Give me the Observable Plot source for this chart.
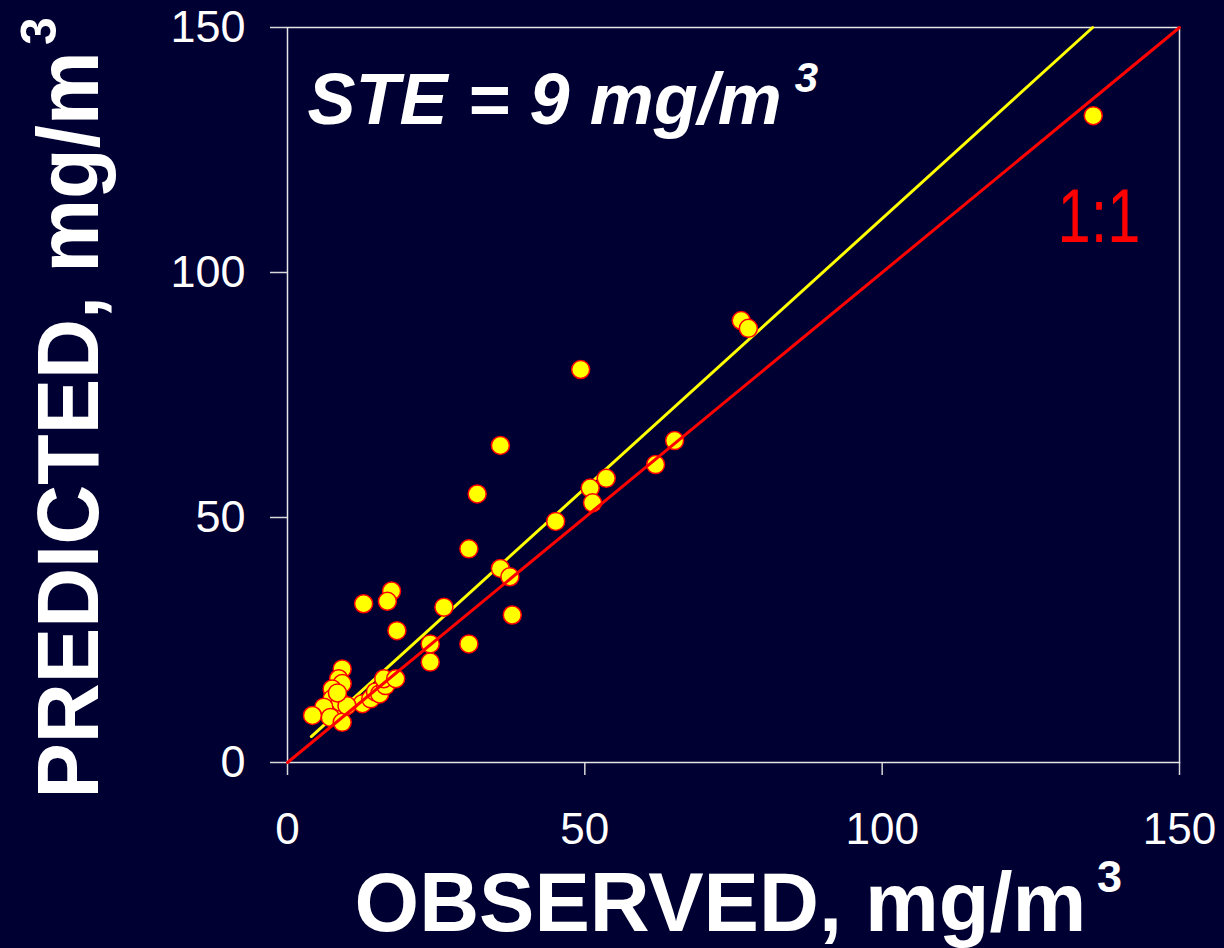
<!DOCTYPE html>
<html><head><meta charset="utf-8">
<script src="https://cdn.jsdelivr.net/npm/d3@7"></script>
<script src="https://cdn.jsdelivr.net/npm/@observablehq/plot@0.6"></script>
<style>
html,body{margin:0;padding:0;background:#000033;}
</style></head><body><div id="chart"></div>
<script>
// Observed vs predicted concentrations (mg/m3)
const observed = [135.5, 76.3, 77.5, 49.3, 35.8, 65.1, 61.9, 53.6, 50.9, 51.3, 31.9, 45.1, 30.5, 35.8, 37.4, 37.8, 26.3, 12.8, 17.5, 16.8, 18.4, 24.0, 24.0, 30.5, 9.2, 8.6, 9.2, 7.5, 7.5, 8.9, 6.1, 4.2, 7.2, 9.2, 12.6, 14.0, 14.8, 15.5, 16.5, 16.2, 18.2, 10.0, 8.4];
const predicted = [132.0, 90.2, 88.6, 80.2, 64.7, 65.7, 60.8, 58.0, 56.0, 53.0, 54.8, 49.2, 43.6, 39.6, 37.9, 30.1, 31.7, 32.4, 35.0, 32.9, 26.9, 24.2, 20.5, 24.2, 19.1, 17.1, 16.1, 15.0, 13.0, 12.3, 11.3, 9.6, 9.2, 8.2, 12.0, 13.0, 14.4, 14.0, 15.7, 17.1, 17.1, 11.6, 14.2];
// Fitted (yellow) line end points
const fitObserved = [4.0, 135.4];
const fitPredicted = [5.3, 150];
// 1:1 line end points
const identityLine = [0, 150];
const xTicks = [0, 50, 100, 150];
const yTicks = [0, 50, 100, 150];
const steLabel = "STE = 9 mg/m";
const xLabel = "OBSERVED, mg/m";
const yLabel = "PREDICTED, mg/m";
const sup = "3";
const oneLabel = "1:1";

const points = observed.map((x, i) => ({x, y: predicted[i]}));
const fit = fitObserved.map((x, i) => ({x, y: fitPredicted[i]}));
const oneToOne = identityLine.map(v => ({x: v, y: v}));

const font = "'Liberation Sans', Arial, Helvetica, sans-serif";
const chart = Plot.plot({
  width: 1224, height: 948,
  marginLeft: 287, marginRight: 45, marginTop: 27, marginBottom: 186,
  style: {background: "#000033", color: "white", fontFamily: font, overflow: "visible"},
  x: {domain: [0, 150]},
  y: {domain: [0, 150]},
  marks: [
    Plot.axisX({ticks: xTicks, tickSize: 13, tickPadding: 37, fontSize: 44, label: null, stroke: "#d8d8d8", strokeWidth: 1.5}),
    Plot.axisY({ticks: yTicks, tickSize: 17, tickPadding: 25, fontSize: 45, label: null, stroke: "#d8d8d8", strokeWidth: 1.5}),
    Plot.frame({stroke: "#e6e6e6", strokeWidth: 1.5}),
    Plot.line(fit, {x: "x", y: "y", stroke: "#ffff00", strokeWidth: 3}),
    Plot.dot(points, {x: "x", y: "y", r: 9, fill: "#ffff00", stroke: "#ff0000", strokeWidth: 1.5}),
    Plot.line(oneToOne, {x: "x", y: "y", stroke: "#ff0000", strokeWidth: 3}),
    Plot.text([steLabel], {text: d => d, frameAnchor: "top-left", textAnchor: "start", lineAnchor: "bottom", dx: 20, dy: 96, fontSize: 72, fontWeight: "bold", fontStyle: "italic", fill: "white"}),
    Plot.text([sup], {text: d => d, frameAnchor: "top-left", textAnchor: "middle", lineAnchor: "bottom", dx: 519, dy: 64, fontSize: 42, fontWeight: "bold", fontStyle: "italic", fill: "white"}),
    Plot.text([oneLabel], {text: d => d, frameAnchor: "top-right", textAnchor: "end", lineAnchor: "bottom", dx: -39, dy: 214, fontSize: 76, fill: "#ff0000"}),
    Plot.text([xLabel], {text: d => d, frameAnchor: "bottom", textAnchor: "middle", lineAnchor: "bottom", dx: -13, dy: 168, fontSize: 83, fontWeight: "bold", fill: "white"}),
    Plot.text([sup], {text: d => d, frameAnchor: "bottom", textAnchor: "middle", lineAnchor: "bottom", dx: 376, dy: 129, fontSize: 45, fontWeight: "bold", fill: "white"}),
    Plot.text([yLabel], {text: d => d, frameAnchor: "left", rotate: -90, textAnchor: "middle", lineAnchor: "bottom", dx: -190, dy: 30, fontSize: 88, fontWeight: "bold", fill: "white"}),
    Plot.text([sup], {text: d => d, frameAnchor: "left", rotate: -90, textAnchor: "middle", lineAnchor: "bottom", dx: -232, dy: -364, fontSize: 50, fontWeight: "bold", fill: "white"})
  ]
});

// condense a few labels the way the original slide stretched them
d3.select(chart).selectAll("text").each(function () {
  const t = this.textContent;
  const fit = {"1:1": 83, "PREDICTED, mg/m": 747};
  if (fit[t] && this.children.length === 0) {
    this.setAttribute("textLength", fit[t]);
    this.setAttribute("lengthAdjust", "spacingAndGlyphs");
  }
});
document.getElementById("chart").appendChild(chart);
</script></body></html>
